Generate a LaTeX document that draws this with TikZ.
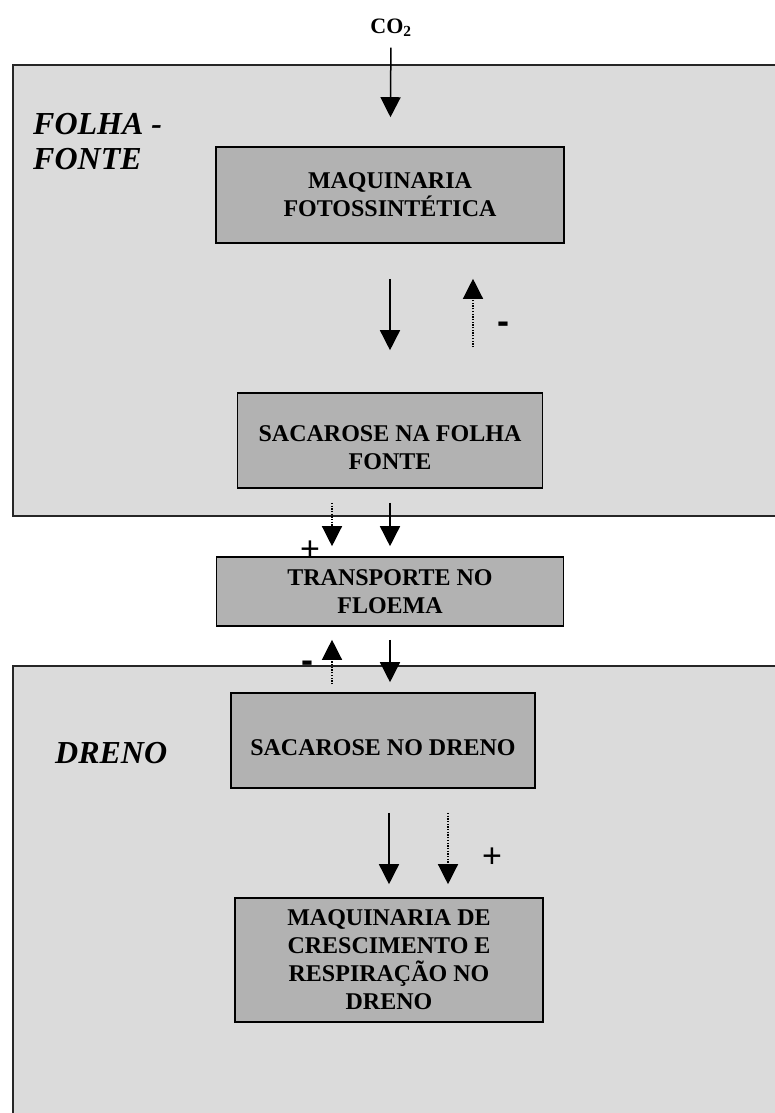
\documentclass[tikz,border=0pt]{standalone}
\usepackage{fontspec}
\setmainfont{Liberation Serif}
\newfontfamily\signfont{Liberation Sans}
\usetikzlibrary{arrows.meta}

\newcommand{\toppad}{\rule{0pt}{31pt}}

\tikzset{
    panel/.style={draw=black!85, line width=1.5pt, fill=black!14},
    box/.style={rectangle, draw, line width=1.6pt, fill=black!30, inner sep=0pt, align=center, font=\bfseries\fontsize{24}{28}\selectfont},
    region/.style={inner sep=0pt, align=left, font=\bfseries\itshape\fontsize{32}{35}\selectfont},
    flow/.style={-{Triangle[width=20pt,length=20pt]}, line width=1.5pt},
    dotflow/.style={-{Triangle[width=20pt,length=20pt]}, line width=1.3pt, dash pattern=on 1.3pt off 1.4pt},
    plussign/.style={inner sep=0pt, font=\signfont\fontsize{34}{34}\selectfont},
    minussign/.style={inner sep=0pt, font=\signfont\bfseries\fontsize{36}{36}\selectfont}
}

\begin{document}
\begin{tikzpicture}[x=1pt, y=-1pt]
    \useasboundingbox (0,0) rectangle (774,1113);

    % leaf and sink areas
    \draw[panel] (13,65) rectangle (790,516);
    \draw[panel] (13,666) rectangle (790,1130);

    \node at (391,27.5) [inner sep=0pt, font=\bfseries\fontsize{22}{22}\selectfont] (CO2) {CO\textsubscript{2}};
    \node at (33,142) [region, anchor=west] (Folha) {FOLHA -\\FONTE};
    \node at (55,753) [region, anchor=west] (Dreno) {DRENO};

    \node at (390,195) [box, minimum width=348pt, minimum height=96pt] (Maq) {MAQUINARIA\\FOTOSSINTÉTICA};
    \node at (390,440.5) [box, minimum width=305pt, minimum height=95pt] (SacFolha) {\toppad SACAROSE NA FOLHA\\FONTE};
    \node at (390,591.5) [box, minimum width=347pt, minimum height=69pt] (Floema) {TRANSPORTE NO\\FLOEMA};
    \node at (383,740.5) [box, minimum width=304pt, minimum height=95pt] (SacDreno) {\toppad SACAROSE NO DRENO};
    \node at (389,960) [box, minimum width=308pt, minimum height=124pt] (MaqDreno) {MAQUINARIA DE\\CRESCIMENTO E\\RESPIRAÇÃO NO\\DRENO};

    \node at (503,328) [minussign] (MinusFolha) {-};
    \node at (310,551) [plussign] (PlusFloema) {+};
    \node at (307,667) [minussign] (MinusFloema) {-};
    \node at (492,858) [plussign] (PlusDreno) {+};

    \draw[flow, shorten <=11pt, shorten >=29pt] (CO2) -- (Maq);
    \draw[flow, shorten <=35pt, shorten >=42pt] (Maq) -- (SacFolha);
    \draw[dotflow, shorten <=45pt, shorten >=35pt] ([xshift=83pt]SacFolha.north) -- ([xshift=83pt]Maq.south);

    \draw[flow, shorten <=14pt, shorten >=10pt] (SacFolha) -- (Floema);
    \draw[dotflow, shorten <=14pt, shorten >=10pt] ([xshift=-58pt]SacFolha.south) -- ([xshift=-58pt]Floema.north);

    \draw[flow, shorten <=13pt, shorten >=10pt] (Floema.south) -- (Floema.south |- SacDreno.north);
    \draw[dotflow, shorten <=8pt, shorten >=13pt] ([xshift=-58pt]Floema.south |- SacDreno.north) -- ([xshift=-58pt]Floema.south);

    \draw[flow, shorten <=24pt, shorten >=13pt] (MaqDreno.north |- SacDreno.south) -- (MaqDreno.north);
    \draw[dotflow, shorten <=24pt, shorten >=13pt] ([xshift=59pt]MaqDreno.north |- SacDreno.south) -- ([xshift=59pt]MaqDreno.north);
\end{tikzpicture}
\end{document}
